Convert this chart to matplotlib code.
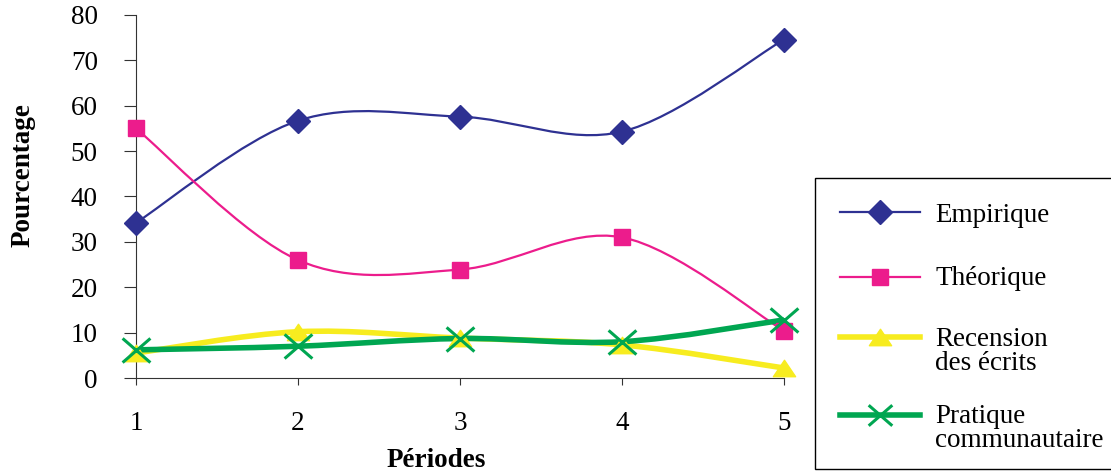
import numpy as np
import matplotlib.pyplot as plt
from matplotlib.path import Path
from matplotlib.patches import PathPatch, Rectangle
from matplotlib.lines import Line2D

# Data
periodes = [1, 2, 3, 4, 5]
empirique = [34.2, 56.7, 57.6, 54.3, 74.6]
theorique = [55.0, 26.0, 23.9, 31.0, 10.4]
recension = [5.5, 10.2, 8.8, 7.3, 2.2]
pratique = [6.2, 7.0, 8.7, 8.0, 12.8]
labels = ["Empirique", "Théorique", "Recension\ndes écrits", "Pratique\ncommunautaire"]

plt.rcParams['font.family'] = ['Liberation Serif', 'DejaVu Serif']
FS = 19.5
W, H = 1111, 472

# wide cross and flat triangle, as in the spreadsheet markers
cross = Path([(-1.15, -1), (1.15, 1), (-1.15, 1), (1.15, -1)],
             [Path.MOVETO, Path.LINETO, Path.MOVETO, Path.LINETO])
tri = Path([(0, 0.37), (-0.5, -0.37), (0.5, -0.37), (0, 0.37)],
           [Path.MOVETO, Path.LINETO, Path.LINETO, Path.CLOSEPOLY])


def smooth_path(x, y):
    # Bezier spline through the points (like the spreadsheet "smoothed line")
    pts = np.column_stack([x, y]).astype(float)
    n = len(pts)
    verts = [pts[0]]
    codes = [Path.MOVETO]
    for i in range(n - 1):
        p0 = pts[i - 1] if i > 0 else pts[i]
        p1 = pts[i]
        p2 = pts[i + 1]
        p3 = pts[i + 2] if i + 2 < n else pts[i + 1]
        c1 = p1 + (p2 - p0) / 6.0
        c2 = p2 - (p3 - p1) / 6.0
        verts += [c1, c2, p2]
        codes += [Path.CURVE4] * 3
    return Path(verts, codes)


fig = plt.figure(figsize=(W / 100, H / 100), dpi=100)
ax = fig.add_axes([136 / W, 94 / H, 648 / W, 363 / H])

series = [
    (empirique, '#2E3192', 1.6, dict(marker='D', markersize=12)),
    (theorique, '#EC1C8C', 1.6, dict(marker='s', markersize=12)),
    (recension, '#F7EC1F', 4.0, dict(marker=tri, markersize=16)),
    (pratique, '#00A651', 4.0, dict(marker=cross, markersize=20, markeredgewidth=2.2)),
]

for vals, color, lw, mk in series:
    patch = PathPatch(smooth_path(periodes, vals), facecolor='none', edgecolor=color,
                      lw=lw, transform=ax.transData, clip_on=False, zorder=2)
    ax.add_patch(patch)
    ax.plot(periodes, vals, linestyle='none', color=color, clip_on=False, zorder=3, **mk)

ax.set_xlim(1, 5)
ax.set_ylim(0, 80)
ax.set_xticks(periodes)
ax.set_yticks(range(0, 81, 10))
for s in ['top', 'right']:
    ax.spines[s].set_visible(False)
ax.spines['left'].set_color('#333333')
ax.spines['bottom'].set_color('#333333')
ax.tick_params(axis='y', direction='out', length=8.5, width=0.8, pad=19,
               labelsize=FS, color='#333333')
ax.tick_params(axis='x', direction='out', length=5, width=0.8, pad=19,
               labelsize=FS, color='#333333')

ax.set_ylabel("Pourcentage", fontsize=FS, fontweight='bold')
ax.yaxis.set_label_coords(-0.155, 0.56)
ax.set_xlabel("Périodes", fontsize=FS, fontweight='bold')
ax.xaxis.set_label_coords(0.463, -0.194)

# legend box, drawn by hand so the key sits on the first text line
fig.add_artist(Rectangle((815 / W, 3 / H), 305 / W, 291 / H, transform=fig.transFigure,
                         facecolor='white', edgecolor='black', lw=1.0, clip_on=False))
key_y = [212, 277, 337, 415]
text_y = [222, 285, 346, 423]
for (vals, color, lw, mk), label, ky, ty in zip(series, labels, key_y, text_y):
    yk = 1 - ky / H
    fig.add_artist(Line2D([840 / W, 920 / W], [yk, yk], transform=fig.transFigure,
                          color=color, lw=lw))
    mk_leg = dict(mk)
    if mk_leg['marker'] is cross:
        mk_leg['markersize'] = 17
    fig.add_artist(Line2D([880 / W], [yk], transform=fig.transFigure, color=color,
                          linestyle='none', **mk_leg))
    for k, line in enumerate(label.split("\n")):
        fig.text(935 / W, 1 - (ty + 24 * k) / H, line, fontsize=FS, va='baseline', ha='left')

fig.savefig("out.png", dpi=100)
